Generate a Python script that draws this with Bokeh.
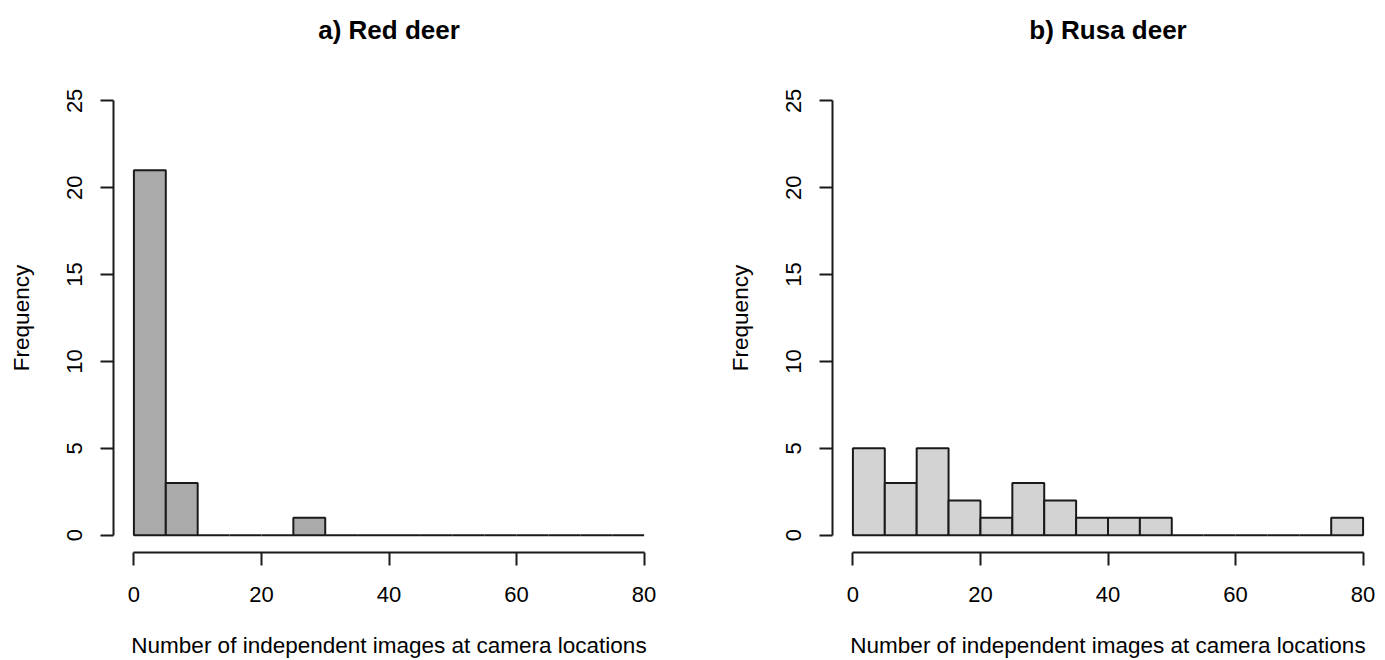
from bokeh.plotting import figure
from bokeh.models import Range1d, FixedTicker, ColumnDataSource, Title
from bokeh.layouts import row
from bokeh.embed import file_html
from bokeh.resources import INLINE

# Histogram bins (number of independent images), width 5
bin_left = [0, 5, 10, 15, 20, 25, 30, 35, 40, 45, 50, 55, 60, 65, 70, 75]
bin_right = [5, 10, 15, 20, 25, 30, 35, 40, 45, 50, 55, 60, 65, 70, 75, 80]

# Frequencies
red_deer_counts = [21, 3, 0, 0, 0, 1, 0, 0, 0, 0, 0, 0, 0, 0, 0, 0]
rusa_deer_counts = [5, 3, 5, 2, 1, 3, 2, 1, 1, 1, 0, 0, 0, 0, 0, 1]

x_ticks = [0, 20, 40, 60, 80]
y_ticks = [0, 5, 10, 15, 20, 25]

titles = ["a) Red deer", "b) Rusa deer"]
x_label = "Number of independent images at camera locations"
y_label = "Frequency"

FONT = "Liberation Sans"
EDGE = "#1a1a1a"


def make_panel(title, counts, fill, width, border_left, border_right):
    p = figure(
        width=width, height=660,
        x_range=Range1d(-3.2, 83.2), y_range=Range1d(-1, 26),
        output_backend="svg", toolbar_location=None,
        min_border_left=border_left, min_border_right=border_right,
        min_border_top=83, min_border_bottom=107,
        title=None,
    )
    # spacer between the frame and the title (keeps the title high, as in R)
    p.add_layout(Title(text=" ", text_font=FONT, text_font_size="10px",
                       standoff=26), "above")
    p.add_layout(Title(text=title, align="center", text_font=FONT,
                       text_font_size="26px", text_font_style="bold",
                       text_color="black", standoff=0), "above")
    src = ColumnDataSource(dict(left=bin_left, right=bin_right, top=counts))
    p.quad(left="left", right="right", bottom=0, top="top", source=src,
           fill_color=fill, line_color=EDGE, line_width=2)

    p.grid.visible = False
    p.outline_line_color = None
    p.background_fill_color = "white"
    p.border_fill_color = "white"

    for ax in (p.xaxis[0], p.yaxis[0]):
        ax.major_tick_out = 13
        ax.major_tick_in = 0
        ax.minor_tick_out = 0
        ax.minor_tick_in = 0
        ax.axis_line_color = EDGE
        ax.axis_line_width = 2
        ax.major_tick_line_color = EDGE
        ax.major_tick_line_width = 2
        ax.major_label_text_font = FONT
        ax.major_label_text_font_size = "22px"
        ax.major_label_text_color = "black"
        ax.axis_label_text_font = FONT
        ax.axis_label_text_font_size = "22.5px"
        ax.axis_label_text_font_style = "normal"
        ax.axis_label_text_color = "black"

    p.xaxis.bounds = (0, 80)
    p.xaxis.ticker = FixedTicker(ticks=x_ticks)
    p.xaxis.axis_label = x_label
    p.xaxis.major_label_standoff = 21
    p.xaxis.axis_label_standoff = 28

    p.yaxis.bounds = (0, 25)
    p.yaxis.ticker = FixedTicker(ticks=y_ticks)
    p.yaxis.axis_label = y_label
    p.yaxis.major_label_orientation = "vertical"
    p.yaxis.major_label_standoff = 18
    p.yaxis.axis_label_standoff = 31
    return p


p1 = make_panel(titles[0], red_deer_counts, "#aaaaaa", 694, 113, 30)
p2 = make_panel(titles[1], rusa_deer_counts, "#d3d3d3", 689, 138, 0)

layout = row(p1, p2)
open("out.html", "w").write(file_html(layout, INLINE))
